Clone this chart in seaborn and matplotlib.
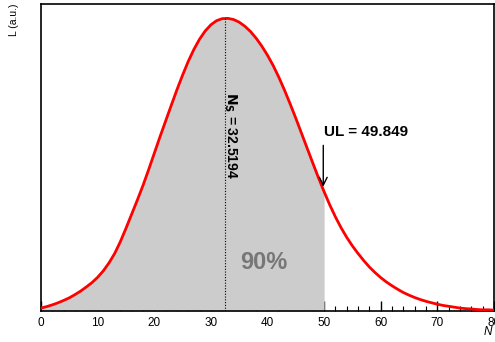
import numpy as np
import pandas as pd
import matplotlib
matplotlib.use("Agg")
import matplotlib.pyplot as plt
import seaborn as sns

# ---- data ----
n_values = list(range(0, 81))
likelihood = [0.010, 0.015, 0.021, 0.028, 0.036, 0.045, 0.056, 0.068, 0.082, 0.097,
              0.115, 0.137, 0.164, 0.196, 0.236, 0.282, 0.330, 0.378, 0.428, 0.482,
              0.538, 0.594, 0.648, 0.702, 0.755, 0.805, 0.852, 0.893, 0.928, 0.956,
              0.977, 0.991, 0.998, 0.999, 0.995, 0.986, 0.972, 0.954, 0.931, 0.904,
              0.873, 0.838, 0.798, 0.754, 0.707, 0.658, 0.607, 0.556, 0.505, 0.455,
              0.407, 0.362, 0.321, 0.284, 0.251, 0.222, 0.196, 0.172, 0.150, 0.131,
              0.114, 0.099, 0.086, 0.074, 0.063, 0.054, 0.046, 0.039, 0.033, 0.028,
              0.023, 0.019, 0.016, 0.013, 0.010, 0.008, 0.007, 0.005, 0.004, 0.004,
              0.003]
ns_best = 32.5194
upper_limit = 49.849
cl_label = "90%"
x_ticks = [0, 10, 20, 30, 40, 50, 60, 70, 80]

df = pd.DataFrame({"N": n_values, "L": likelihood})

sns.set_style("white")
plt.rcParams["font.family"] = ["Liberation Sans", "DejaVu Sans"]
plt.rcParams["text.color"] = "black"
plt.rcParams["xtick.color"] = "black"
plt.rcParams["axes.labelcolor"] = "black"

fig = plt.figure(figsize=(4.95, 3.42), dpi=100)
ax = fig.add_axes([41/495, 31/342, 453/495, 307/342])

# shaded region up to the upper limit
sub = df[df["N"] <= 50]
ax.fill_between(sub["N"], 0, sub["L"], color="#cccccc", lw=0, zorder=2)

sns.lineplot(data=df, x="N", y="L", color="red", lw=2.0, ax=ax, zorder=3)

ax.vlines(ns_best, 0, 0.999, colors="black", linestyles=(0, (1, 1.5)), lw=0.8, zorder=3)

ax.set_xlim(0, 80)
ax.set_ylim(0, 1.048)
ax.set_xticks(x_ticks)
ax.set_xticks(np.arange(0, 81, 2), minor=True)
ax.set_yticks([])
ax.tick_params(axis="x", which="major", direction="in", length=7, width=1,
               labelsize=8.5, pad=4, top=False, bottom=True, colors="black")
ax.tick_params(axis="x", which="minor", direction="in", length=3.5, width=0.8,
               top=False, bottom=True, colors="black")
for s in ax.spines.values():
    s.set_visible(True)
    s.set_color("black")
    s.set_linewidth(1.2)
ax.set_xlabel("")
ax.set_ylabel("")

ax.text(33.5, 0.60, r"$\mathbf{N}_{\mathbf{S}}$ = %.4f" % ns_best, rotation=-90,
        ha="center", va="center", fontsize=10, fontweight="bold", color="black",
        zorder=4)
ax.text(49.9, 0.597, "UL = %.3f" % upper_limit, ha="left", va="baseline",
        fontsize=11, fontweight="bold", color="black", zorder=4)
ax.annotate("", xy=(upper_limit, 0.415), xytext=(upper_limit, 0.575),
            arrowprops=dict(arrowstyle="->", color="black", lw=1.0,
                            mutation_scale=14), zorder=4)
ax.text(39.4, 0.167, cl_label, ha="center", va="center", fontsize=17,
        fontweight="bold", color="#777777", zorder=4)

fig.text(488/495, 1 - 332/342, "N", style="italic", fontsize=8.5,
         ha="center", va="center", color="black")
fig.text(14/495, 1 - 4/342, "L (a.u.)", rotation=90, fontsize=7.5,
         ha="center", va="top", color="black")

fig.savefig("out.png", dpi=100)
